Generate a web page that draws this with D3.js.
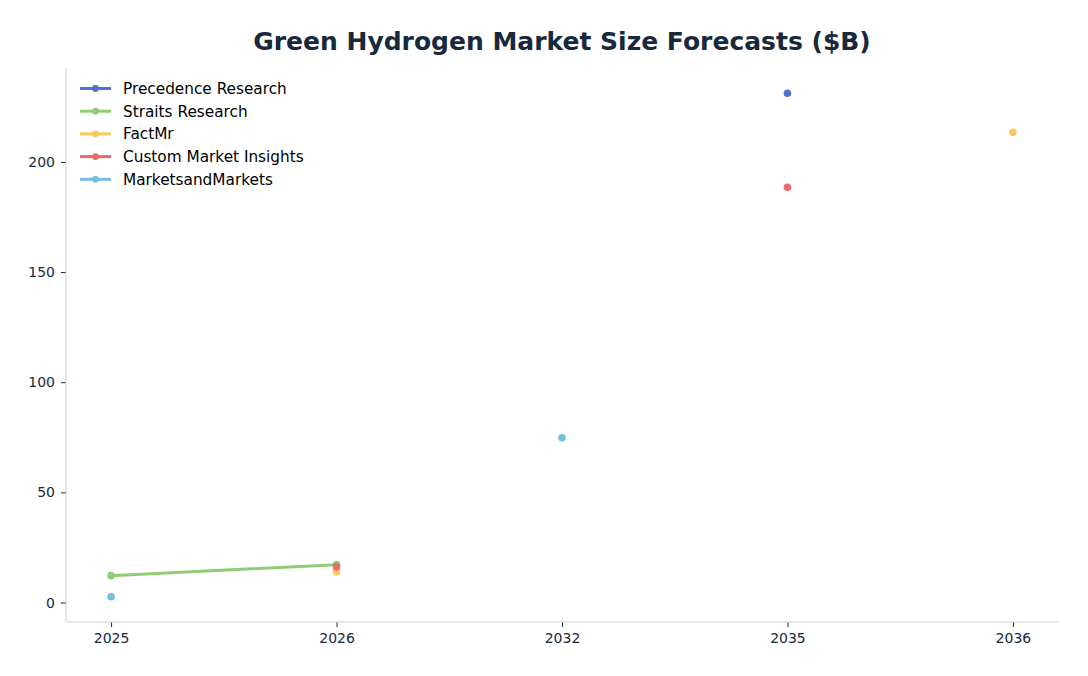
<!DOCTYPE html>
<html>
<head>
<meta charset="utf-8">
<script src="https://cdn.jsdelivr.net/npm/d3@7"></script>
<style>
  body { margin: 0; background: #fff; }
  svg { font-family: "DejaVu Sans", sans-serif; }
</style>
</head>
<body>
<div id="chart"></div>
<script>
// categories on the x axis
const years = ["2025", "2026", "2032", "2035", "2036"];

// one list per source, null where there is no forecast
const precedence = [null, null, null, 231.2, null];
const straits = [12.2, 17.2, null, null, null];
const factMr = [null, 13.9, null, null, 213.5];
const customMarket = [null, 16.2, null, 188.5, null];
const marketsAndMarkets = [2.6, null, 74.8, null, null];

const seriesNames = ["Precedence Research", "Straits Research", "FactMr", "Custom Market Insights", "MarketsandMarkets"];
const seriesColors = ["#5470c6", "#91cc75", "#fac858", "#ee6666", "#73c0de"];
const yTicks = [0, 50, 100, 150, 200];

const seriesValues = [precedence, straits, factMr, customMarket, marketsAndMarkets];

let w = 1088, h = 676;
let margin = { top: 68, right: 30, bottom: 54, left: 66 };

let svg = d3.select("#chart").append("svg")
    .attr("width", w)
    .attr("height", h);

// x: categorical positions, padded like matplotlib's 5% margin
let xIndex = d3.scaleLinear()
    .domain([-0.2, years.length - 1 + 0.2])
    .range([margin.left, w - margin.right]);
let xScale = d => xIndex(years.indexOf(d));

let allVals = seriesValues.flat().filter(v => v != null);
let yMin = d3.min(allVals), yMax = d3.max(allVals);
let pad = (yMax - yMin) * 0.05;
let yScale = d3.scaleLinear()
    .domain([yMin - pad, yMax + pad])
    .range([h - margin.bottom, margin.top]);

//title
svg.append("text")
    .attr("x", 562)
    .attr("y", 50)
    .attr("text-anchor", "middle")
    .attr("font-size", "25px")
    .attr("font-weight", "bold")
    .attr("fill", "#17293a")
    .text("Green Hydrogen Market Size Forecasts ($B)");

//axes
let xAxis = d3.axisBottom(d3.scalePoint().domain(years).range([xIndex(0), xIndex(years.length - 1)]))
    .tickSizeOuter(0).tickSize(5).tickPadding(6);
let yAxis = d3.axisLeft(yScale).tickValues(yTicks).tickSizeOuter(0).tickSize(5).tickPadding(6);

let gx = svg.append("g")
    .attr("transform", `translate(0, ${h - margin.bottom})`)
    .call(xAxis);
gx.select(".domain").remove();
gx.append("line")
    .attr("x1", margin.left).attr("x2", w - margin.right)
    .attr("stroke", "#c9cdcf");

let gy = svg.append("g")
    .attr("transform", `translate(${margin.left}, 0)`)
    .call(yAxis);
gy.select(".domain").remove();
gy.append("line")
    .attr("y1", margin.top).attr("y2", h - margin.bottom)
    .attr("stroke", "#c9cdcf");

svg.selectAll(".tick line").attr("stroke", "#17293a");
svg.selectAll(".tick text")
    .attr("font-size", "14px")
    .attr("fill", "#17293a")
    .attr("font-family", "DejaVu Sans, sans-serif");

//lines and points
let line = d3.line()
    .defined(d => d.v != null)
    .x(d => xScale(d.year))
    .y(d => yScale(d.v));

seriesNames.forEach((name, i) => {
    let pts = years.map((year, j) => ({ year: year, v: seriesValues[i][j] }));
    svg.append("path")
        .datum(pts)
        .attr("fill", "none")
        .attr("stroke", seriesColors[i])
        .attr("stroke-width", 3)
        .attr("stroke-linecap", "round")
        .attr("d", line);
    svg.selectAll(null)
        .data(pts.filter(d => d.v != null))
        .enter()
        .append("circle")
        .attr("cx", d => xScale(d.year))
        .attr("cy", d => yScale(d.v))
        .attr("r", 3.8)
        .attr("fill", seriesColors[i]);
});

//legend
let legend = svg.selectAll(".legend")
    .data(seriesNames)
    .enter()
    .append("g")
    .attr("transform", (d, i) => `translate(80, ${88.5 + i * 22.7})`);

legend.append("line")
    .attr("x1", 0).attr("x2", 31)
    .attr("stroke", (d, i) => seriesColors[i])
    .attr("stroke-width", 3);
legend.append("circle")
    .attr("cx", 15.5).attr("r", 3.4)
    .attr("fill", (d, i) => seriesColors[i]);
legend.append("text")
    .attr("x", 43)
    .attr("dy", ".35em")
    .attr("font-size", "15.3px")
    .attr("fill", "#000")
    .text(d => d);
</script>
</body>
</html>
